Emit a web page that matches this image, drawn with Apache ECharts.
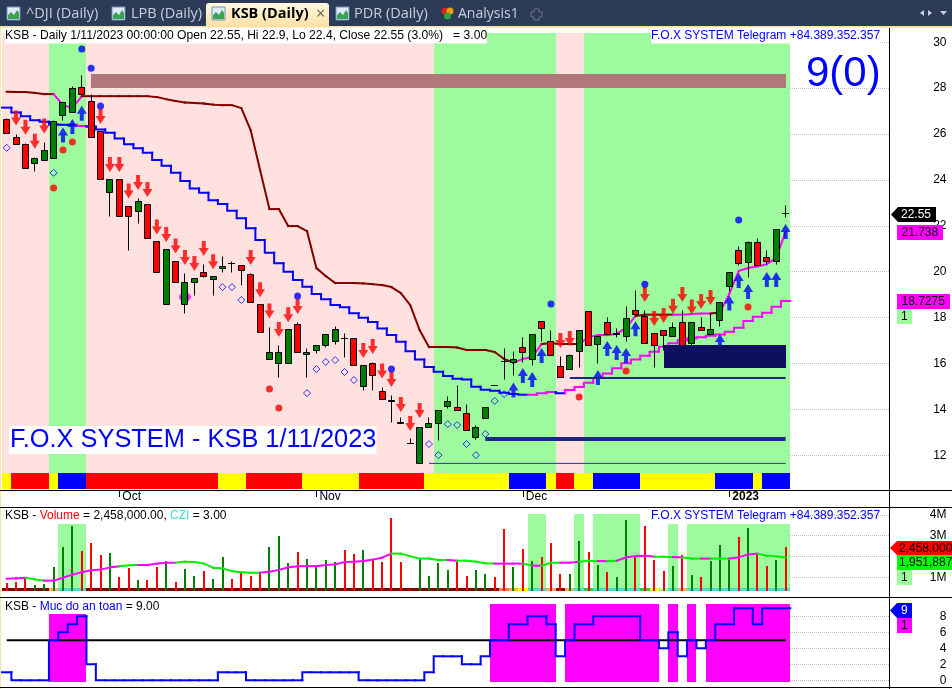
<!DOCTYPE html>
<html>
<head>
<meta charset="utf-8">
<title>KSB (Daily)</title>
<style>
  html, body { margin: 0; padding: 0; background: #fff; overflow: hidden; }
  #chart { width: 952px; height: 689px; }
</style>
<script src="https://cdn.jsdelivr.net/npm/echarts@6/dist/echarts.min.js"></script>
</head>
<body>
<div id="chart"></div>
<script>
// month ticks, given as bar numbers
const monthTicks = [12, 33, 55, 77]
const monthLabels = ['Oct', 'Nov', 'Dec', '2023']
const priceTicks = [12, 14, 16, 18, 20, 22, 24, 26, 28, 30]
const volumeTicks = [1, 2, 3, 4]
const safetyTicks = [0, 2, 4, 6, 8]

const opens = [26.64, 25.86, 25.55, 24.72, 24.85, 24.94, 26.81, 26.94, 28.03, 27.42, 26.12, 23.46, 24.03, 22.85, 22.63, 22.94, 21.32, 18.58, 20.45, 18.58, 19.54, 19.97, 19.67, 20.15, 20.37, 20.28, 19.89, 18.58, 16.18, 16.01, 16.01, 17.71, 16.40, 16.57, 16.79, 16.97, 17.10, 17.10, 15.01, 16.01, 14.79, 14.43, 13.47, 12.52, 11.65, 13.22, 13.39, 14.13, 14.09, 13.83, 12.78, 13.61, 15.05, 16.10, 16.08, 16.71, 16.18, 17.84, 16.97, 15.88, 15.75, 16.53, 18.27, 16.84, 17.79, 17.27, 17.18, 18.32, 18.06, 17.32, 17.45, 17.18, 17.79, 16.88, 17.58, 17.27, 17.88, 19.36, 20.93, 20.41, 21.28, 20.63, 20.45, 22.55]
const closes = [26.03, 25.55, 24.50, 24.94, 25.29, 26.55, 27.41, 27.99, 27.73, 25.86, 24.03, 24.03, 22.41, 22.41, 23.07, 21.45, 19.97, 20.98, 19.54, 19.54, 19.71, 19.80, 19.80, 20.23, 20.37, 20.06, 18.67, 17.36, 16.49, 16.49, 17.49, 16.49, 16.49, 16.79, 17.27, 17.49, 17.10, 15.92, 15.92, 15.49, 14.44, 14.37, 13.41, 12.52, 13.22, 13.39, 13.96, 14.35, 13.96, 13.12, 13.22, 14.09, 15.05, 16.10, 16.18, 16.49, 17.27, 17.53, 16.36, 15.40, 16.36, 17.45, 16.79, 17.18, 17.27, 17.31, 17.97, 18.14, 16.88, 16.79, 17.23, 17.58, 16.79, 17.79, 17.45, 17.49, 18.67, 19.97, 20.37, 21.28, 20.28, 20.45, 21.85, 22.55]
const lows = [26.03, 25.55, 24.50, 24.40, 24.85, 24.94, 26.61, 26.94, 27.73, 25.86, 24.03, 22.44, 22.41, 20.95, 22.13, 21.45, 19.97, 18.58, 19.54, 18.21, 18.98, 19.76, 18.98, 19.97, 19.97, 19.42, 18.67, 17.36, 16.18, 15.40, 16.01, 16.49, 15.40, 16.44, 16.73, 16.84, 16.30, 15.92, 14.85, 14.85, 14.44, 13.46, 13.39, 12.52, 11.65, 13.22, 12.67, 14.05, 13.96, 13.12, 12.70, 13.61, 15.05, 15.34, 15.50, 16.08, 15.93, 16.98, 16.36, 15.40, 15.75, 15.86, 16.79, 16.03, 17.27, 17.14, 16.98, 18.14, 16.88, 15.86, 16.59, 17.18, 16.79, 16.79, 17.45, 17.27, 17.62, 19.16, 20.28, 19.78, 20.28, 20.32, 20.32, 22.40]
const highs = [26.70, 25.99, 25.60, 24.98, 25.64, 26.61, 27.41, 28.09, 28.57, 27.73, 26.12, 24.03, 24.03, 22.85, 23.21, 22.94, 21.32, 20.98, 20.45, 19.93, 19.71, 20.32, 19.80, 20.67, 20.47, 20.28, 19.94, 18.58, 17.58, 16.79, 17.49, 17.79, 16.66, 16.79, 17.27, 17.63, 17.32, 17.10, 15.92, 16.05, 14.96, 14.63, 13.67, 12.74, 13.22, 13.68, 13.96, 14.57, 15.05, 14.22, 13.32, 14.09, 15.05, 16.66, 16.56, 17.17, 17.27, 17.84, 17.46, 16.31, 16.41, 17.45, 18.27, 17.18, 18.01, 17.53, 18.50, 19.20, 18.33, 17.32, 17.45, 17.79, 18.32, 17.79, 18.01, 18.19, 18.67, 19.97, 21.12, 21.32, 21.45, 20.93, 21.85, 22.90]

// slow line, and the stepped stop line under it
const upperLine = [27.84, 27.83, 27.83, 27.79, 27.74, 27.74, 27.26, 27.13, 27.65, 27.65, 27.65, 27.65, 27.65, 27.65, 27.65, 27.65, 27.61, 27.52, 27.44, 27.37, 27.35, 27.33, 27.28, 27.26, 27.26, 27.13, 26.17, 24.43, 22.73, 22.73, 21.99, 21.99, 21.77, 20.16, 19.81, 19.51, 19.51, 19.51, 19.49, 19.46, 19.42, 19.33, 19.07, 18.55, 17.46, 16.72, 16.72, 16.72, 16.70, 16.59, 16.59, 16.59, 16.50, 16.20, 16.04, 16.20, 16.28, 16.85, 16.89, 16.85, 16.85, 16.85, 17.15, 17.24, 17.24, 17.29, 17.55, 18.07, 18.13, 18.13, 18.13, 18.13, 18.13, 18.16, 18.18, 18.18, 18.24, 19.03, 20.03, 20.16, 20.23, 20.33, 20.60, 21.74]
const stopLine = [27.15, 26.94, 26.77, 26.60, 26.53, 26.42, 26.40, 26.40, 26.35, 26.32, 26.20, 26.06, 25.81, 25.55, 25.38, 25.18, 24.87, 24.62, 24.31, 23.95, 23.63, 23.44, 23.12, 22.95, 22.66, 22.33, 21.89, 21.38, 20.83, 20.37, 20.00, 19.64, 19.35, 19.03, 18.80, 18.55, 18.45, 18.19, 18.00, 17.81, 17.53, 17.24, 16.95, 16.54, 16.18, 15.85, 15.64, 15.46, 15.34, 15.31, 14.99, 14.86, 14.81, 14.73, 14.67, 14.64, 14.64, 14.71, 14.76, 14.71, 14.85, 14.98, 15.16, 15.37, 15.57, 15.79, 16.01, 16.18, 16.34, 16.51, 16.73, 16.88, 17.02, 17.10, 17.15, 17.21, 17.27, 17.39, 17.56, 17.85, 18.04, 18.21, 18.47, 18.73]
const upperLineUpRuns = [[6, 8], [55, 57], [62, 67], [72, 75], [77, 83]]
const stopLineUpRuns = [[8, 8], [56, 58], [60, 83]]

// [bar, price]
const sellArrows = [[1, 26.70], [2, 26.30], [3, 25.69], [4, 26.35], [10, 26.76], [11, 24.67], [12, 24.67], [13, 23.52], [14, 23.89], [15, 23.58], [16, 21.95], [17, 21.62], [18, 21.12], [19, 20.62], [20, 20.36], [21, 21.01], [22, 20.44], [26, 20.62], [27, 19.22], [28, 18.29], [29, 17.48], [30, 18.13], [31, 18.48], [38, 16.57], [39, 16.74], [40, 15.67], [41, 15.30], [42, 14.21], [43, 13.39], [44, 13.95], [59, 17.00], [60, 17.09], [68, 19.01], [69, 17.96], [70, 18.09], [71, 18.50], [72, 19.01], [73, 18.46], [74, 18.70], [75, 18.88]]
const buyArrows = [[6, 25.96], [7, 26.33], [8, 26.91], [54, 14.85], [55, 15.48], [56, 15.30], [57, 16.35], [63, 15.39], [64, 16.65], [65, 16.48], [66, 16.35], [67, 17.52], [76, 16.96], [77, 18.64], [78, 19.62], [79, 19.14], [81, 19.66], [82, 19.66], [83, 21.75]]
const blueDots = [[8, 29.70], [9, 28.87], [10, 27.22], [31, 18.94], [41, 15.76], [58, 18.59], [68, 19.46], [78, 22.25]]
const redDots = [[5, 23.65], [6, 25.30], [7, 25.65], [28, 14.89], [29, 14.06], [61, 14.54], [66, 15.67], [79, 18.46]]
const hollowDots = [[0, 25.40], [5, 24.31], [23, 19.33], [24, 19.33], [25, 18.77], [32, 14.71], [33, 15.76], [34, 16.07], [35, 16.15], [36, 15.63], [37, 15.28], [45, 12.49], [46, 12.01], [47, 13.36], [48, 13.32], [49, 12.49], [50, 12.01], [51, 12.93], [52, 14.37], [53, 14.67]]
const magentaSpot = [[19, 18.90]]

// [first bar, last bar, price] support and resistance levels
const levelLines = [[60, 83, 15.37], [51, 83, 12.71], [45, 83, 11.65]]
const brownZone = [9, 83, 28.61, 28.0]
const navyZone = [70, 83, 16.81, 15.80]

// [first bar, last bar] of the green trend, the rest is pink
const greenRuns = [[5, 8], [46, 58], [62, 83]]
// [first bar, last bar, state] of the strip under the candles
const trendStrip = [[0, 0, 'y'], [1, 4, 'r'], [5, 5, 'y'], [6, 8, 'b'], [9, 22, 'r'], [23, 25, 'y'], [26, 31, 'r'], [32, 37, 'y'], [38, 44, 'r'], [45, 53, 'y'], [54, 57, 'b'], [58, 58, 'y'], [59, 60, 'r'], [61, 62, 'y'], [63, 67, 'b'], [68, 75, 'y'], [76, 79, 'b'], [80, 80, 'y'], [81, 83, 'b']]

// volume, in millions
const volumes = [0.71, 0.77, 1.00, 0.61, 0.66, 1.50, 2.46, 3.47, 2.26, 2.65, 2.07, 2.17, 1.01, 1.45, 0.87, 0.87, 1.50, 1.78, 0.77, 1.40, 1.06, 1.30, 0.92, 1.98, 0.92, 1.21, 1.06, 1.21, 2.46, 2.99, 1.69, 2.22, 1.88, 1.59, 1.83, 1.74, 2.31, 2.12, 2.31, 1.83, 1.74, 3.85, 1.74, 0.39, 1.91, 1.06, 1.67, 1.35, 1.74, 1.06, 1.35, 1.16, 1.01, 3.32, 1.50, 2.36, 1.78, 1.98, 2.65, 1.16, 1.16, 2.75, 2.22, 1.59, 1.25, 1.01, 3.75, 1.98, 3.47, 1.83, 1.30, 1.54, 2.07, 1.11, 1.01, 1.78, 2.55, 1.83, 2.94, 3.37, 2.17, 1.54, 1.83, 2.458]
const volumeAvg = [0.93, 0.95, 0.98, 0.90, 0.84, 0.84, 0.98, 1.13, 1.24, 1.34, 1.37, 1.48, 1.53, 1.58, 1.59, 1.59, 1.66, 1.70, 1.70, 1.75, 1.74, 1.66, 1.46, 1.43, 1.30, 1.24, 1.22, 1.22, 1.27, 1.35, 1.48, 1.53, 1.54, 1.54, 1.59, 1.62, 1.74, 1.75, 1.78, 1.85, 1.94, 2.14, 2.14, 2.02, 1.90, 1.90, 1.83, 1.83, 1.80, 1.80, 1.75, 1.67, 1.66, 1.66, 1.66, 1.66, 1.56, 1.56, 1.70, 1.70, 1.70, 1.74, 1.80, 1.78, 1.78, 1.80, 1.96, 2.02, 2.04, 1.99, 1.99, 1.98, 1.96, 1.90, 1.90, 1.90, 1.90, 1.90, 1.96, 2.10, 2.14, 2.04, 2.01, 1.95]
const volumeAvgUpRuns = [[0, 2], [5, 12], [15, 18], [28, 41], [48, 48], [53, 55], [57, 57], [60, 61], [64, 64], [66, 69], [72, 72], [75, 75], [78, 80]]
// [first bar, last bar, height in millions] of the green blocks behind volume
const volumeBlocks = [[6, 8, 3.56], [56, 57, 4.04], [61, 61, 4.04], [63, 67, 4.04], [71, 71, 3.56], [73, 83, 3.56]]
const cziStrip = [[0, 4, 'dark'], [5, 5, 'peach'], [6, 8, 'aqua'], [9, 52, 'dark'], [53, 53, 'orange'], [54, 54, 'peach'], [55, 55, 'yellow'], [56, 57, 'aqua'], [58, 58, 'peach'], [59, 59, 'dark'], [60, 60, 'peach'], [61, 61, 'aqua'], [62, 62, 'lime'], [63, 67, 'aqua'], [68, 68, 'lime'], [69, 69, 'yellow'], [70, 70, 'pale'], [71, 71, 'aqua'], [72, 72, 'peach'], [73, 83, 'aqua']]

// safety level (Muc do an toan)
const safety = [1, 0, 0, 0, 0, 5, 6, 7, 8, 2, 0, 0, 0, 0, 0, 0, 0, 0, 0, 0, 0, 0, 0, 1, 1, 1, 0, 0, 0, 0, 0, 0, 1, 1, 1, 1, 1, 1, 0, 0, 0, 0, 0, 0, 0, 1, 3, 3, 3, 2, 2, 3, 5, 5, 7, 7, 8, 8, 7, 3, 5, 7, 7, 8, 8, 8, 8, 8, 5, 5, 4, 6, 3, 5, 4, 5, 7, 7, 9, 9, 7, 9, 9, 9]
const safetyRef = 5
const safeRuns = [[5, 8, 8.3], [52, 58, 9.55], [60, 69, 9.55], [71, 71, 9.55], [73, 73, 9.55], [75, 83, 9.55]]

const barCount = opens.length
const barIds = Array.from({ length: barCount }, (_, i) => i)

const FONT = '"Liberation Sans", Arial, sans-serif'
const UI_FONT = '"Open Sans", "Noto Sans", sans-serif'
const palette = {
  y: '#ffff00', r: '#ff0000', b: '#0000ff',
  dark: '#800000', peach: '#ffb060', aqua: '#40e0d0', orange: '#ff8040',
  yellow: '#ffff00', lime: '#32cd32', pale: '#9dfb9d'
}
const PINK = '#ffe2df'
const GREEN = '#9dfb9d'
const MAGENTA = '#ff00ff'
const BLUE = '#0000ff'
const DARKRED = '#800000'

function inRuns(runs, i) {
  return runs.some((r) => i >= r[0] && i <= r[1])
}

// rects are [x0, x1, top, bottom, colour], x in bars
function rectSeries(axis, rects, z) {
  return {
    type: 'custom', xAxisIndex: axis, yAxisIndex: axis, z: z, silent: true,
    data: rects.map((r, i) => [i]),
    renderItem(params, api) {
      const r = rects[params.dataIndex]
      const a = api.coord([r[0], r[2]])
      const b = api.coord([r[1], r[3]])
      const x0 = Math.round(a[0])
      const y0 = Math.round(a[1])
      return {
        type: 'rect',
        shape: { x: x0, y: y0, width: Math.round(b[0]) - x0, height: Math.round(b[1]) - y0 },
        style: { fill: r[4] }
      }
    }
  }
}

function barRects(runs, top, bottom, color) {
  return runs.map((r) => [r[0] - 0.5, r[1] + 0.5, top, bottom, color])
}

// line coloured per bar, stepped at the bar edges or straight from centre to centre
function lineSeries(axis, values, colorOf, stepped, z) {
  return {
    type: 'custom', xAxisIndex: axis, yAxisIndex: axis, z: z, silent: true,
    data: barIds.map((i) => [i]),
    renderItem(params, api) {
      const i = params.dataIndex
      let points
      if (stepped) {
        const prev = i === 0 ? values[0] : values[i - 1]
        points = [[i - 0.5, prev], [i - 0.5, values[i]], [i + 0.5, values[i]]]
      } else {
        if (i === 0) return null
        points = [[i - 1, values[i - 1]], [i, values[i]]]
      }
      return {
        type: 'polyline',
        shape: { points: points.map((p) => api.coord(p)) },
        style: { fill: 'none', stroke: colorOf(i), lineWidth: 2, lineCap: 'square' }
      }
    }
  }
}

function candleSeries() {
  return {
    type: 'custom', xAxisIndex: 0, yAxisIndex: 0, z: 4, silent: true,
    data: barIds.map((i) => [i]),
    renderItem(params, api) {
      const i = params.dataIndex
      const cx = Math.floor(api.coord([i, 0])[0]) + 0.5
      const yOf = (v) => Math.round(api.coord([i, v])[1]) + 0.5
      const top = yOf(Math.max(opens[i], closes[i]))
      const bottom = yOf(Math.min(opens[i], closes[i]))
      const children = [{
        type: 'line',
        shape: { x1: cx, y1: yOf(highs[i]), x2: cx, y2: yOf(lows[i]) },
        style: { stroke: '#000', lineWidth: 1 }
      }]
      if (opens[i] === closes[i]) {
        children.push({
          type: 'line',
          shape: { x1: cx - 3.5, y1: top, x2: cx + 3.5, y2: top },
          style: { stroke: '#000', lineWidth: 1 }
        })
      } else {
        children.push({
          type: 'rect',
          shape: { x: cx - 3, y: top, width: 6, height: bottom - top },
          style: { fill: closes[i] > opens[i] ? '#008000' : '#ff0000', stroke: '#000', lineWidth: 1 }
        })
      }
      return { type: 'group', children: children }
    }
  }
}

function volumeBarSeries() {
  const base = 0.327
  return {
    type: 'custom', xAxisIndex: 1, yAxisIndex: 1, z: 4, silent: true,
    data: barIds.map((i) => [i]),
    renderItem(params, api) {
      const i = params.dataIndex
      const a = api.coord([i, volumes[i]])
      const b = api.coord([i, base])
      return {
        type: 'rect',
        shape: { x: Math.round(a[0]) - 1, y: Math.round(a[1]), width: 2, height: Math.round(b[1]) - Math.round(a[1]) },
        style: { fill: closes[i] > opens[i] ? '#008000' : '#ff0000' }
      }
    }
  }
}

function levelSeries(level, width, color) {
  return {
    type: 'line', xAxisIndex: 0, yAxisIndex: 0, z: 6, silent: true, symbol: 'none',
    lineStyle: { color: color, width: width },
    data: [[level[0], level[2]], [level[1], level[2]]]
  }
}

function scatterSeries(data, opts) {
  return Object.assign({ type: 'scatter', xAxisIndex: 0, yAxisIndex: 0, silent: true, data: data }, opts)
}

const UP_ARROW = 'path://M5 0L10 8L7 8L7 15L3 15L3 8L0 8Z'
const DOWN_ARROW = 'path://M5 15L10 7L7 7L7 0L3 0L3 7L0 7Z'

function box(x, y, w, h, fill) {
  return { type: 'rect', shape: { x: x, y: y, width: w, height: h }, style: { fill: fill }, silent: true }
}

function label(x, y, text, extra) {
  return {
    type: 'text', x: x, y: y, silent: true,
    style: Object.assign({ text: text, font: '12px ' + FONT, fill: '#000', verticalAlign: 'middle' }, extra)
  }
}

// value flag next to the axis; with pointed set it gets the arrow tip at the axis
function flag(x0, x1, y0, y1, fill, text, color, textX, pointed) {
  const mid = (y0 + y1) / 2
  const points = pointed
    ? [[x0, mid], [x0 + 7, y0], [x1, y0], [x1, y1], [x0 + 7, y1]]
    : [[x0, y0], [x1, y0], [x1, y1], [x0, y1]]
  return [
    { type: 'polygon', shape: { points: points }, style: { fill: fill }, silent: true },
    label(textX, mid + 0.5, text, { fill: color })
  ]
}

function tabIcon(x) {
  return [
    { type: 'rect', shape: { x: x, y: 7, width: 13, height: 13 }, style: { fill: '#dcecfb', stroke: '#6f93b8', lineWidth: 1 }, silent: true },
    { type: 'polygon', shape: { points: [[x + 1, 19], [x + 1, 15], [x + 4, 12], [x + 7, 15], [x + 10, 10], [x + 12, 13], [x + 12, 19]] }, style: { fill: '#3fa34d' }, silent: true }
  ]
}

const tabs = [
  label(26, 14, '^DJI (Daily)', { font: '14.5px ' + UI_FONT, fill: '#c8d1dd' }),
  label(131, 14, 'LPB (Daily)', { font: '14.5px ' + UI_FONT, fill: '#c8d1dd' }),
  label(231, 14, 'KSB (Daily)', { font: 'bold 14.5px ' + UI_FONT, fill: '#000' }),
  label(316, 14, '×', { font: '16px ' + UI_FONT, fill: '#6b5a3e' }),
  label(354, 14, 'PDR (Daily)', { font: '14.5px ' + UI_FONT, fill: '#c8d1dd' }),
  label(458, 14, 'Analysis1', { font: '14px ' + UI_FONT, fill: '#c8d1dd' })
]

const graphicElements = [
  box(0, 0, 952, 26, '#2c3b57'),
  box(0, 26, 952, 2, '#fbe3a6'),
  box(0, 28, 1, 661, '#fbe3a6'),
  {
    type: 'rect', shape: { x: 206, y: 3, width: 123, height: 24, r: [3, 3, 0, 0] }, silent: true,
    style: {
      fill: { type: 'linear', x: 0, y: 0, x2: 0, y2: 1, colorStops: [{ offset: 0, color: '#fff8e4' }, { offset: 1, color: '#fde0a0' }] }
    }
  },
  ...tabIcon(7), ...tabIcon(112), ...tabIcon(212), ...tabIcon(336),
  { type: 'circle', shape: { cx: 445, cy: 11, r: 3.5 }, style: { fill: '#e02020' }, silent: true },
  { type: 'circle', shape: { cx: 450, cy: 11, r: 3.5 }, style: { fill: '#f59a10' }, silent: true },
  { type: 'circle', shape: { cx: 447.5, cy: 16, r: 3.5 }, style: { fill: '#28a838' }, silent: true },
  {
    type: 'polygon', silent: true,
    shape: { points: [[534, 9], [539, 9], [539, 12], [542, 12], [542, 17], [539, 17], [539, 20], [534, 20], [534, 17], [531, 17], [531, 12], [534, 12]] },
    style: { fill: 'none', stroke: '#6c7688', lineWidth: 1 }
  },
  { type: 'polygon', shape: { points: [[920, 13], [924, 10], [924, 16]] }, style: { fill: '#c8d1dd' }, silent: true },
  { type: 'polygon', shape: { points: [[932, 13], [928, 10], [928, 16]] }, style: { fill: '#c8d1dd' }, silent: true },
  { type: 'polygon', shape: { points: [[940, 11], [947, 11], [943.5, 15]] }, style: { fill: '#c8d1dd' }, silent: true },
  ...tabs,

  box(0, 490, 952, 1, '#000'),
  box(0, 507, 952, 1, '#000'),
  box(0, 597, 952, 1, '#000'),
  box(0, 687, 952, 1, '#000'),
  box(889, 28, 1, 661, '#000'),

  label(5, 35.5, 'KSB - Daily 1/11/2023 00:00:00 Open 22.55, Hi 22.9, Lo 22.4, Close 22.55 (3.0%)   = 3.00', { font: '12.12px ' + FONT, backgroundColor: '#fff', padding: [2, 0, 2, 0] }),
  label(651, 35.5, 'F.O.X SYSTEM Telegram +84.389.352.357', { fill: BLUE, backgroundColor: '#fff', padding: [2, 0, 2, 0] }),
  label(806, 74, '9(0)', { font: '42px ' + FONT, fill: BLUE }),
  label(9, 440, 'F.O.X SYSTEM - KSB 1/11/2023', { font: '25.4px ' + FONT, fill: BLUE, backgroundColor: '#fff', padding: [2, 0, 1, 1] }),

  {
    type: 'text', x: 5, y: 516, silent: true,
    style: {
      text: '{k|KSB - }{r|Volume}{k| = 2,458,000.00, }{c|CZI}{k| = 3.00}',
      verticalAlign: 'middle',
      rich: {
        k: { font: '12px ' + FONT, fill: '#000' },
        r: { font: '12px ' + FONT, fill: '#ff0000' },
        c: { font: '12px ' + FONT, fill: '#40e0d0' }
      }
    }
  },
  label(651, 516, 'F.O.X SYSTEM Telegram +84.389.352.357', { fill: BLUE }),
  {
    type: 'text', x: 5, y: 606.5, silent: true,
    style: {
      text: '{k|KSB - }{b|Muc do an toan}{k| = 9.00}',
      verticalAlign: 'middle',
      rich: {
        k: { font: '12px ' + FONT, fill: '#000' },
        b: { font: '12px ' + FONT, fill: BLUE }
      }
    }
  },

  ...flag(891, 936, 207, 222, '#000', '22.55', '#fff', 901, true),
  ...flag(897, 943, 225, 240, MAGENTA, '21.738', '#000', 901.5, false),
  ...flag(897, 950, 294, 309, MAGENTA, '18.7275', '#000', 901.5, false),
  ...flag(897, 912, 309, 324, GREEN, '1', '#000', 901, false),
  ...flag(890, 952, 541, 555, '#ff0000', '2,458,000', '#000', 899, true),
  ...flag(897, 952, 555, 570, '#00ff00', '1,951,887', '#000', 899, false),
  ...flag(897, 912, 570, 585, GREEN, '1', '#000', 901, false),
  ...flag(890, 912, 603, 618, BLUE, '9', '#fff', 901, true),
  ...flag(897, 912, 618, 633, MAGENTA, '1', '#000', 901, false)
].map((el) => Object.assign({ z: 100 }, el))

function yAxisFor(grid, min, max, ticks, formatter) {
  return {
    type: 'value', gridIndex: grid, position: 'right', min: min, max: max, scale: false,
    axisLine: { show: false },
    axisTick: { show: true, length: 5, lineStyle: { color: '#000' }, customValues: ticks },
    axisLabel: {
      show: true, customValues: ticks, align: 'right', margin: 57, padding: [3, 0, 0, 0],
      fontFamily: FONT, fontSize: 12, color: '#000', formatter: formatter, hideOverlap: false
    },
    splitLine: { show: true, lineStyle: { color: '#bbb', type: 'dotted', width: 1 } }
  }
}

function xAxisFor(grid, shown) {
  const axis = { type: 'value', gridIndex: grid, min: -0.5, max: 94.07, scale: false, splitLine: { show: false } }
  if (!shown) return Object.assign(axis, { axisLine: { show: false }, axisTick: { show: false }, axisLabel: { show: false } })
  return Object.assign(axis, {
    axisLine: { show: false },
    axisTick: { show: true, length: 7, lineStyle: { color: '#000' }, customValues: monthTicks },
    axisLabel: {
      show: true, customValues: monthTicks, align: 'left', margin: 1, padding: [0, 0, 0, 3],
      fontFamily: FONT, fontSize: 12, color: '#000',
      formatter: (v) => {
        const text = monthLabels[monthTicks.indexOf(v)]
        return v === 77 ? '{b|' + text + '}' : text
      },
      rich: { b: { fontFamily: FONT, fontSize: 12, fontWeight: 'bold', color: '#000' } }
    }
  })
}

const priceBands = [[-0.5, 83.5, 30.40, 11.23, PINK]].concat(barRects(greenRuns, 30.40, 11.23, GREEN))
const priceStrip = trendStrip.map((r) => [r[0] - 0.5, r[1] + 0.5, 11.23, 10.53, palette[r[2]]])
const volumeBack = [[-0.5, 83.5, 4.356, 0.03, '#fff']]
  .concat(volumeBlocks.map((r) => [r[0] - 0.5, r[1] + 0.5, r[2], 0.48, GREEN]))
const volumeStrip = cziStrip.map((r) => [r[0] - 0.5, r[1] + 0.5, 0.48, 0.327, palette[r[2]]])
const safetyBack = [[-0.5, 83.5, 10.35, -0.8375, '#fff']]
  .concat(safeRuns.map((r) => [r[0] - 0.5, r[1] + 0.5, r[2], -0.17, MAGENTA]))

const option = {
  animation: false,
  backgroundColor: '#fff',
  graphic: { elements: graphicElements },
  grid: [
    { left: 2, right: 62.5, top: 28, height: 462 },
    { left: 2, right: 62.5, top: 507.5, height: 90 },
    { left: 2, right: 62.5, top: 597.5, height: 89.5 }
  ],
  xAxis: [xAxisFor(0, true), xAxisFor(1, false), xAxisFor(2, false)],
  yAxis: [
    yAxisFor(0, 10.49, 30.62, priceTicks),
    yAxisFor(1, 0.03, 4.356, volumeTicks, (v) => v + 'M'),
    yAxisFor(2, -0.8375, 10.35, safetyTicks)
  ],
  series: [
    rectSeries(0, priceBands, 1),
    rectSeries(0, priceStrip, 1),
    lineSeries(0, upperLine, (i) => (inRuns(upperLineUpRuns, i) ? MAGENTA : DARKRED), false, 3),
    lineSeries(0, stopLine, (i) => (inRuns(stopLineUpRuns, i) ? MAGENTA : BLUE), true, 3),
    scatterSeries(magentaSpot, { z: 3, symbol: 'circle', symbolSize: [12, 9], itemStyle: { color: MAGENTA } }),
    candleSeries(),
    scatterSeries(sellArrows, { z: 5, symbol: DOWN_ARROW, symbolSize: [10, 15], itemStyle: { color: '#ff0000' } }),
    scatterSeries(buyArrows, { z: 5, symbol: UP_ARROW, symbolSize: [10, 15], itemStyle: { color: BLUE } }),
    scatterSeries(blueDots, { z: 5, symbol: 'circle', symbolSize: 7, itemStyle: { color: BLUE } }),
    scatterSeries(redDots, { z: 5, symbol: 'circle', symbolSize: 7, itemStyle: { color: '#ff0000' } }),
    scatterSeries(hollowDots, { z: 5, symbol: 'diamond', symbolSize: 7, itemStyle: { color: 'transparent', borderColor: BLUE, borderWidth: 1 } }),
    rectSeries(0, [[brownZone[0], brownZone[1], brownZone[2], brownZone[3], '#b07878']], 6),
    rectSeries(0, [[navyZone[0], navyZone[1], navyZone[2], navyZone[3], '#0f0f5f']], 6),
    levelSeries(levelLines[0], 2, '#1f2585'),
    levelSeries(levelLines[1], 4, '#1f2585'),
    levelSeries(levelLines[2], 1, '#3030a0'),

    rectSeries(1, volumeBack, 1),
    rectSeries(1, volumeStrip, 2),
    volumeBarSeries(),
    lineSeries(1, volumeAvg, (i) => (inRuns(volumeAvgUpRuns, i) ? MAGENTA : '#00ee00'), false, 5),

    rectSeries(2, safetyBack, 1),
    {
      type: 'line', xAxisIndex: 2, yAxisIndex: 2, z: 3, silent: true, symbol: 'none',
      lineStyle: { color: '#000', width: 2 },
      data: [[0, safetyRef], [barCount - 1, safetyRef]]
    },
    lineSeries(2, safety, () => BLUE, true, 4)
  ]
}

const chart = echarts.init(document.getElementById('chart'), null, { renderer: 'canvas' })
chart.setOption(option)
</script>
</body>
</html>
